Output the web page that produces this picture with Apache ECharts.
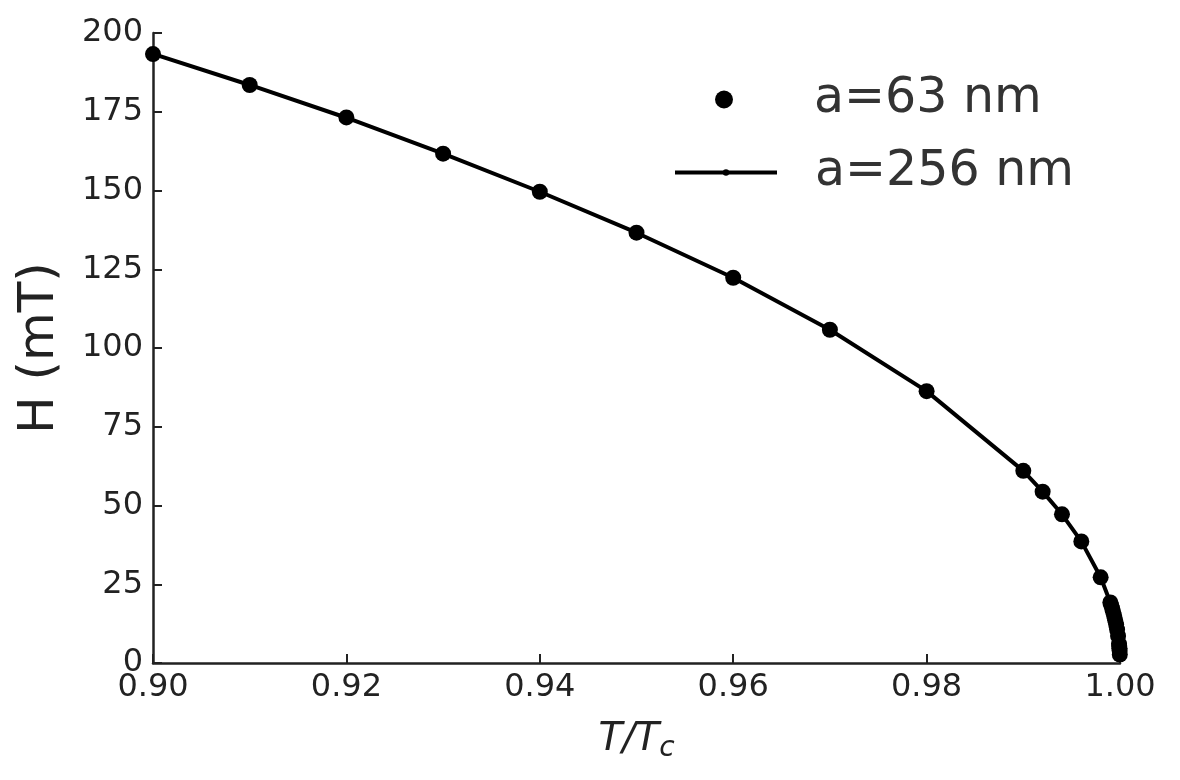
<!DOCTYPE html>
<html lang="en">
<head>
    <meta charset="UTF-8">
    <title>H(T)</title>
    <script src="https://cdn.jsdelivr.net/npm/echarts@6/dist/echarts.min.js"></script>
    <style>
        html,body{margin:0;padding:0;background:#fff;}
        #main{width:1180px;height:780px;}
    </style>
</head>
<body>
<div id="main"></div>
<script>
    // T/Tc values
    var tVals = [0.90, 0.91, 0.92, 0.93, 0.94, 0.95, 0.96, 0.97, 0.98, 0.99,
        0.992, 0.994, 0.996, 0.998, 0.999, 0.9991, 0.9992, 0.9993, 0.9994, 0.9995,
        0.9996, 0.9997, 0.9998, 0.9999, 0.99992, 0.99994, 0.99996, 0.99998];
    // a=63 nm, H in mT
    var h63 = [193.3, 183.5, 173.2, 161.7, 149.6, 136.6, 122.3, 105.8, 86.3, 61.0,
        54.4, 47.2, 38.6, 27.2, 19.2, 18.3, 17.2, 16.1, 14.9, 13.6,
        12.2, 10.6, 8.6, 6.1, 5.4, 4.7, 3.9, 2.7];
    // a=256 nm, H in mT
    var h256 = [193.4, 183.5, 173.1, 161.7, 149.6, 136.6, 122.3, 105.8, 86.3, 61.0,
        54.4, 47.2, 38.6, 27.2, 19.2, 18.3, 17.2, 16.1, 14.9, 13.6,
        12.2, 10.6, 8.6, 6.1, 5.4, 4.7, 3.9, 2.7];
    var names = ['a=63 nm', 'a=256 nm'];

    function pairs(xs, ys){
        var out = [];
        for (var i = 0; i < xs.length; i++) out.push([xs[i], ys[i]]);
        return out;
    }

    var font = 'DejaVu Sans';
    var myChart = echarts.init(document.getElementById('main'));
    var option = {
        animation: false,
        textStyle: {fontFamily: font},
        grid: {left: 153, right: 60, top: 33, bottom: 117},
        legend: [{
            data: [names[0]],
            left: 710, top: 70,
            itemWidth: 18, itemHeight: 18,
            textStyle: {fontSize: 49, color: '#333', padding: [0, 0, 0, 76]}
        }, {
            data: [names[1]],
            left: 668, top: 143,
            itemWidth: 102, itemHeight: 8,
            lineStyle: {width: 4},
            textStyle: {fontSize: 49, color: '#333', padding: [0, 0, 0, 33]}
        }],
        xAxis: {
            type: 'value', min: 0.9, max: 1.0, interval: 0.02,
            name: '{i|T/T}{s|c}',
            nameLocation: 'middle', nameGap: 54,
            nameTextStyle: {
                rich: {
                    i: {fontStyle: 'italic', fontSize: 39, color: '#222', fontFamily: font},
                    s: {fontStyle: 'italic', fontSize: 28, color: '#222', fontFamily: font, padding: [18, 0, 0, 0]}
                }
            },
            axisLine: {lineStyle: {color: '#222', width: 2.5}},
            axisTick: {inside: true, length: 9, lineStyle: {color: '#222', width: 2}},
            axisLabel: {fontSize: 32, color: '#222', margin: 9, formatter: function(v){ return v.toFixed(2); }},
            splitLine: {show: false}
        },
        yAxis: {
            type: 'value', min: 0, max: 200, interval: 25,
            name: 'H (mT)',
            nameLocation: 'middle', nameGap: 88,
            nameTextStyle: {fontSize: 50, color: '#222'},
            axisLine: {show: true, lineStyle: {color: '#222', width: 2.5}},
            axisTick: {show: true, inside: true, length: 9, lineStyle: {color: '#222', width: 2}},
            axisLabel: {fontSize: 32, color: '#222', margin: 10},
            splitLine: {show: false}
        },
        series: [{
            name: names[0],
            type: 'scatter',
            data: pairs(tVals, h63),
            symbol: 'circle',
            symbolSize: 16,
            itemStyle: {color: '#000', opacity: 1},
            z: 3
        }, {
            name: names[1],
            type: 'line',
            data: pairs(tVals, h256),
            symbol: 'circle',
            symbolSize: 5,
            showSymbol: true,
            lineStyle: {color: '#000', width: 4},
            itemStyle: {color: '#000'},
            z: 2
        }]
    };
    myChart.setOption(option);
</script>
</body>
</html>
